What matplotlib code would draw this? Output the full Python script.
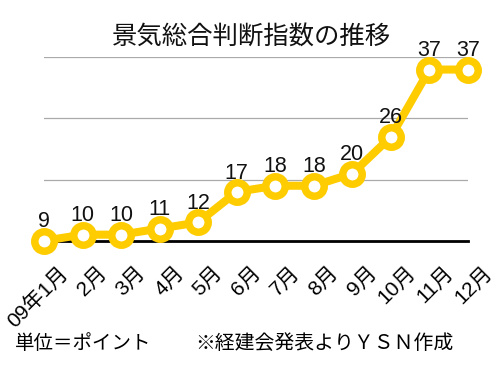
import matplotlib
matplotlib.use('Agg')
import matplotlib.pyplot as plt
import matplotlib.transforms as mtransforms

plt.rcParams['font.family'] = ['Noto Sans CJK JP', 'DejaVu Sans']
latin_first = ['Liberation Sans', 'Noto Sans CJK JP']

# data
months = ['09年1月', '2月', '3月', '4月', '5月', '6月', '7月', '8月', '9月', '10月', '11月', '12月']
index_values = [9, 10, 10, 11, 12, 17, 18, 18, 20, 26, 37, 37]
grid_levels = [19, 29, 39]

gold = '#FFCC00'

fig = plt.figure(figsize=(5, 3.71), dpi=100)
ax = fig.add_axes([0.088, 0.351, 0.848, 0.4945])

x = list(range(len(index_values)))
ax.plot(x, index_values, color=gold, lw=5.8, marker='o', ms=14,
        mfc='white', mec=gold, mew=5.4, clip_on=False, zorder=5)

for xi, v in zip(x, index_values):
    ax.annotate(str(v), (xi, v), xytext=(0, 9.6), textcoords='offset points',
                ha='center', va='baseline', fontsize=15.5, color='#111111',
                family=latin_first, zorder=6, annotation_clip=False)

ax.set_xlim(0, 11)
ax.set_ylim(9, 39)
ax.set_yticks(grid_levels)
ax.yaxis.grid(True, color='#AAAAAA', lw=0.9)
ax.tick_params(axis='y', length=0, labelleft=False)
for s in ['top', 'right', 'left']:
    ax.spines[s].set_visible(False)
ax.spines['bottom'].set_linewidth(2)
ax.spines['bottom'].set_color('black')
ax.spines['bottom'].set_zorder(1)

ax.set_xticks(x)
ax.set_xticklabels(months, rotation=45, ha='right', va='center',
                   rotation_mode='anchor', fontsize=15, family=latin_first)
ax.tick_params(axis='x', length=0, pad=0)
shift = mtransforms.ScaledTranslation(21 / 100, -29 / 100, fig.dpi_scale_trans)
for lab in ax.get_xticklabels():
    lab.set_transform(lab.get_transform() + shift)

fig.text(0.503, 0.900, '景気総合判断指数の推移', ha='center', va='center',
         fontsize=18.3, color='#111111')
fig.text(0.030, 0.075, '単位＝ポイント', ha='left', va='center', fontsize=14)
fig.text(0.390, 0.075, '※経建会発表よりＹＳＮ作成', ha='left', va='center', fontsize=14.3)

fig.savefig('out.png', dpi=100)
